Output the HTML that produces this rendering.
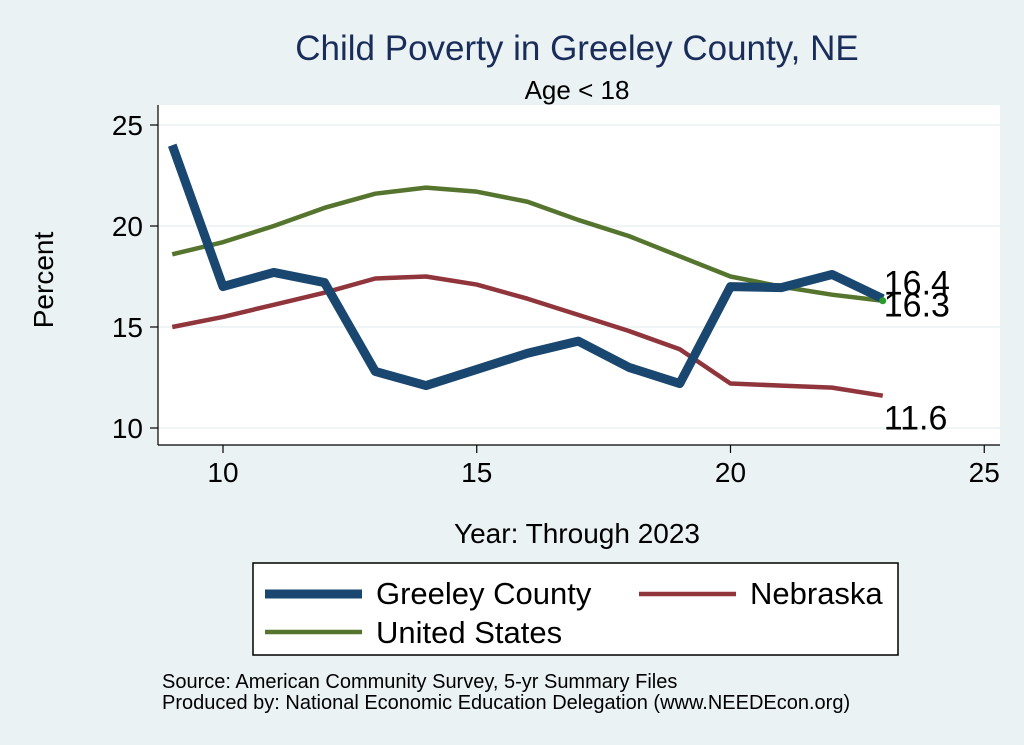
<!DOCTYPE html>
<html><head><meta charset="utf-8"><style>
html,body{margin:0;padding:0;background:#eaf2f3;}
svg{display:block;font-family:"Liberation Sans",Arial,sans-serif;}
</style></head><body>
<svg id="chart" width="1024" height="745" viewBox="0 0 1024 745">
<rect x="0" y="0" width="1024" height="745" fill="#eaf2f3"/>
<rect x="158" y="105" width="842" height="340" fill="#ffffff"/>
<text x="577" y="60" font-size="35" fill="#1a2d5a" text-anchor="middle">Child Poverty in Greeley County, NE</text>
<text x="577" y="99" font-size="26" fill="#000" text-anchor="middle">Age &lt; 18</text>
<g id="grid"></g>
<g id="axes"></g>
<g id="series"></g>
<text x="53" y="280" font-size="28" fill="#000" text-anchor="middle" transform="rotate(-90 53 280)">Percent</text>
<text x="577" y="543" font-size="28" fill="#000" text-anchor="middle">Year: Through 2023</text>
<g>
<rect x="253" y="563" width="645" height="92" fill="#fff" stroke="#000" stroke-width="1.5"/>
<line x1="265" y1="594" x2="362" y2="594" stroke="#1a476f" stroke-width="9"/>
<text x="376" y="604" font-size="31">Greeley County</text>
<line x1="639" y1="594" x2="736" y2="594" stroke="#90353b" stroke-width="4.5"/>
<text x="750" y="604" font-size="31">Nebraska</text>
<line x1="265" y1="632" x2="362" y2="632" stroke="#55752f" stroke-width="4.5"/>
<text x="376" y="643" font-size="31">United States</text>
</g>
<text x="162" y="688" font-size="20">Source: American Community Survey, 5-yr Summary Files</text>
<text x="162" y="709" font-size="20">Produced by: National Economic Education Delegation (www.NEEDEcon.org)</text>
</svg>
<script>
const years = [9,10,11,12,13,14,15,16,17,18,19,20,21,22,23];
const greeley = [24.0,17.0,17.7,17.2,12.8,12.1,12.9,13.7,14.3,13.0,12.2,17.0,16.95,17.6,16.4];
const nebraska = [15.0,15.5,16.1,16.7,17.4,17.5,17.1,16.4,15.6,14.8,13.9,12.2,12.1,12.0,11.6];
const usa = [18.6,19.2,20.0,20.9,21.6,21.9,21.7,21.2,20.3,19.5,18.5,17.5,17.0,16.6,16.3];
const xTicks = [10,15,20,25];
const yTicks = [10,15,20,25];
const endLabels = ["16.4","11.6","16.3"];

const NS="http://www.w3.org/2000/svg";
function xs(v){return 223+(v-10)*50.75;}
function ys(v){return 428-(v-10)*20.2;}
function mk(tag,attrs,parent){const e=document.createElementNS(NS,tag);for(const k in attrs)e.setAttribute(k,attrs[k]);parent.appendChild(e);return e;}
const grid=document.getElementById('grid'),axes=document.getElementById('axes'),ser=document.getElementById('series');
yTicks.forEach(t=>{
 const g=mk('line',{x1:158,x2:1000,y1:ys(t),y2:ys(t),stroke:'#eaf2f3','stroke-width':1.5},grid);
 
 
 const tk=mk('line',{x1:150,x2:158,y1:ys(t),y2:ys(t),stroke:'#000','stroke-width':1.2},axes);
 
 
 const tx=mk('text',{x:143,y:ys(t)+10,'font-size':28,'text-anchor':'end'},axes);
 tx.textContent=t;
 
 
});
xTicks.forEach(t=>{
 const tk=mk('line',{x1:xs(t),x2:xs(t),y1:445,y2:453,stroke:'#000','stroke-width':1.2},axes);
 
 
 const tx=mk('text',{x:xs(t),y:482,'font-size':28,'text-anchor':'middle'},axes);
 tx.textContent=t;
 
 
});
const ya=mk('line',{x1:158,x2:158,y1:105,y2:445,stroke:'#000','stroke-width':1.2},axes);


const xa=mk('line',{x1:158,x2:1000,y1:445,y2:445,stroke:'#000','stroke-width':1.2},axes);


function line(vals,color,w,name){
 const p=mk('polyline',{points:vals.map((v,i)=>xs(years[i])+','+ys(v)).join(' '),fill:'none',stroke:color,'stroke-width':w,'stroke-linejoin':'round'},ser);
 
 
}
line(nebraska,'#90353b',4.5,'nebraska-line');
line(usa,'#55752f',4.5,'us-line');
line(greeley,'#1a476f',9,'greeley-line');
const last=years.length-1;
const dot=mk('circle',{cx:xs(years[last]),cy:ys(usa[last]),r:3.5,fill:'#2a9a2a'},ser);


const lx=xs(years[last])+1;
[[greeley[last],endLabels[0],-4,'greeley-end-label'],[nebraska[last],endLabels[1],34,'nebraska-end-label'],[usa[last],endLabels[2],16,'us-end-label']].forEach(a=>{
 const t=mk('text',{x:lx,y:ys(a[0])+a[2],'font-size':34},ser);
 t.textContent=a[1];
 
 
});
</script>
</body></html>
